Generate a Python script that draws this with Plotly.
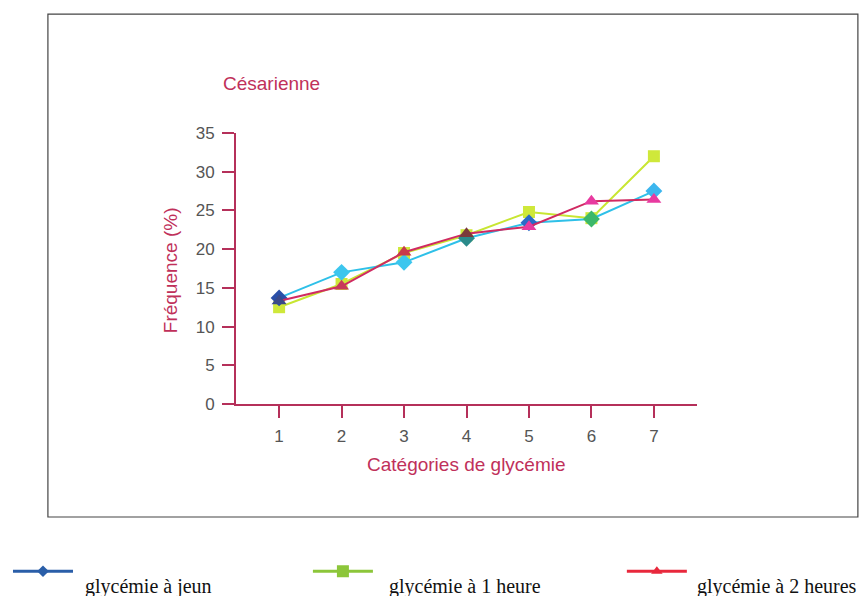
import plotly.graph_objects as go

categories = [1, 2, 3, 4, 5, 6, 7]
jeun = [13.7, 17.0, 18.3, 21.4, 23.4, 23.9, 27.5]
une_heure = [12.5, 15.5, 19.5, 21.8, 24.8, 24.0, 32.0]
deux_heures = [13.3, 15.2, 19.6, 22.0, 22.9, 26.2, 26.4]
names = ["glycémie à jeun", "glycémie à 1 heure", "glycémie à 2 heures"]

axis_col = "#b5305a"
fig = go.Figure()

fig.add_trace(go.Scatter(x=categories, y=une_heure, mode="lines+markers", name=names[1],
                         line=dict(color="#c8e632", width=2),
                         marker=dict(symbol="square", size=12, color="#cfe83a"),
                         showlegend=False))
fig.add_trace(go.Scatter(x=categories, y=jeun, mode="lines+markers", name=names[0],
                         line=dict(color="#2ec0e8", width=2),
                         marker=dict(symbol="diamond", size=13,
                                     color=["#2a4fa8", "#3cc6ee", "#3cc6ee", "#2a8a8a", "#2a6ac8", "#3cb86a", "#3cb6ee"]),
                         showlegend=False))
fig.add_trace(go.Scatter(x=categories, y=deux_heures, mode="lines+markers", name=names[2],
                         line=dict(color="#d02a62", width=2),
                         marker=dict(symbol="triangle-up", size=13,
                                     color=["#3a4a8a", "#c83a5a", "#c83a4a", "#7a3a3a", "#e83aa0", "#e83aa0", "#e83aa0"]),
                         showlegend=False))

# legend keys (one legend per entry, placed like the original); labels as annotations below-right
leg_cols = ["#2a5ea8", "#8cc63a", "#e8283c"]
leg_sym = ["diamond", "square", "triangle-up"]
leg_sizes = [9, 12, 10]
leg_ids = ["legend", "legend2", "legend3"]
for n, c, s, sz, lid in zip(names, leg_cols, leg_sym, leg_sizes, leg_ids):
    fig.add_trace(go.Scatter(x=[None], y=[None], mode="lines+markers", name=" ",
                             legend=lid,
                             line=dict(color=c, width=3),
                             marker=dict(symbol=s, size=sz, color=c)))

leg_common = dict(orientation="h", xanchor="left", yanchor="top",
                  itemwidth=60, bgcolor="rgba(0,0,0,0)", borderwidth=0,
                  font=dict(family="Liberation Serif, Times New Roman", size=18, color="#111"))

label_font = dict(family="Liberation Serif, Times New Roman", size=20, color="#111")
title_font = dict(family="Liberation Sans, Arial", size=19, color="#c0305a")

fig.update_layout(
    width=867, height=596,
    margin=dict(l=236, r=170, t=133, b=192, autoexpand=False),
    paper_bgcolor="white", plot_bgcolor="white",
    font=dict(family="Liberation Sans, Arial", color="#555"),
    xaxis=dict(range=[0.31, 7.69], tickvals=categories, showgrid=False, zeroline=False,
               showline=True, linecolor=axis_col, linewidth=2,
               ticks="outside", ticklen=12, tickcolor=axis_col, tickwidth=2,
               ticklabelstandoff=4, tickfont=dict(size=17, color="#555")),
    yaxis=dict(range=[0, 35], dtick=5, showgrid=False, zeroline=False,
               showline=True, linecolor=axis_col, linewidth=2,
               ticks="outside", ticklen=12, tickcolor=axis_col, tickwidth=2,
               ticklabelstandoff=4, tickfont=dict(size=17, color="#555")),
    legend=dict(x=-0.4946, y=-0.55, **leg_common),
    legend2=dict(x=0.156, y=-0.55, **leg_common),
    legend3=dict(x=0.837, y=-0.55, **leg_common),
    shapes=[dict(type="rect", xref="paper", yref="paper", x0=-0.408, x1=1.349, y0=-0.417, y1=1.439,
                 line=dict(color="#444", width=1.2))],
    annotations=[
        dict(text="Césarienne", xref="paper", yref="paper", x=0.078, y=1.181, xanchor="center",
             yanchor="middle", showarrow=False, font=title_font),
        dict(text="Fréquence (%)", xref="paper", yref="paper", x=-0.143, y=0.494, textangle=-90,
             xanchor="center", yanchor="middle", showarrow=False, font=title_font),
        dict(text="Catégories de glycémie", xref="paper", yref="paper", x=0.5, y=-0.225,
             xanchor="center", yanchor="middle", showarrow=False, font=title_font),
        dict(text=names[0], xref="paper", yref="paper", x=-0.332, y=-0.672,
             xanchor="left", yanchor="middle", showarrow=False, font=label_font),
        dict(text=names[1], xref="paper", yref="paper", x=0.3275, y=-0.672,
             xanchor="left", yanchor="middle", showarrow=False, font=label_font),
        dict(text=names[2], xref="paper", yref="paper", x=0.9957, y=-0.672,
             xanchor="left", yanchor="middle", showarrow=False, font=label_font),
    ],
)

fig.write_html("out.html", config={"displayModeBar": False},
               post_script="document.body.style.margin='0';")
